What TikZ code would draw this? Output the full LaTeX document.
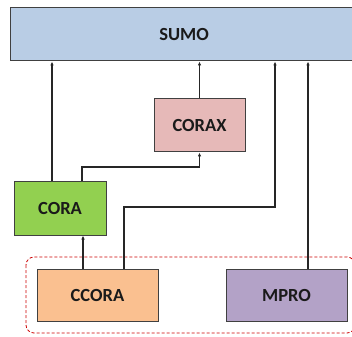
\documentclass[tikz,border=0pt]{standalone}
\usepackage{fontspec}
\setmainfont{Carlito}
\usetikzlibrary{arrows.meta}
\definecolor{sumoc}{HTML}{B9CDE5}
\definecolor{coraxc}{HTML}{E6B9B8}
\definecolor{corac}{HTML}{92D050}
\definecolor{ccorac}{HTML}{FAC090}
\definecolor{mproc}{HTML}{B3A2C7}
\definecolor{edgec}{HTML}{404040}
\definecolor{txtc}{HTML}{1A1A1A}
\begin{document}
\begin{tikzpicture}[x=1pt,y=-1pt,
  blk/.style={draw=edgec,line width=1pt,inner sep=0pt,font=\fontsize{18.5}{21}\selectfont\bfseries,text=txtc},
  conn/.style={draw=black!85,line width=1.4pt,-{Latex[length=4pt,width=3.5pt]}},
  plain/.style={draw=black!85,line width=1.4pt}]
\useasboundingbox (0,0) rectangle (352,336);
\node[blk,fill=sumoc,minimum width=348pt,minimum height=53pt] (sumo) at (184,34.5) {SUMO};
\node[blk,fill=coraxc,minimum width=91pt,minimum height=53pt] (corax) at (199.5,125.5) {CORAX};
\node[blk,fill=corac,minimum width=92pt,minimum height=53pt] (cora) at (60,208.5) {CORA};
\node[blk,fill=ccorac,minimum width=121pt,minimum height=52pt] (ccora) at (97.5,295) {CCORA};
\node[blk,fill=mproc,minimum width=121pt,minimum height=52pt] (mpro) at (286.5,295) {MPRO};
\draw[red!80!black,densely dashed,line width=0.8pt,rounded corners=8pt] (26,257) rectangle (355,333);
\coordinate (a1) at (52,0);
\draw[conn] (cora.north -| a1) -- (sumo.south -| a1);
\draw[conn] (corax.north) -- (sumo.south -| corax.north);
\coordinate (b1) at (82,167);
\draw[conn] (cora.north -| b1) -- (b1) -| (corax.south);
\coordinate (c1) at (83,0);
\draw[conn] (ccora.north -| c1) -- (cora.south -| c1);
\coordinate (d1) at (124,207);
\coordinate (d2) at (275,207);
\draw[conn] (ccora.north -| d1) -- (d1) -- (d2) -- (sumo.south -| d2);
\coordinate (e1) at (308,0);
\draw[conn] (mpro.north -| e1) -- (sumo.south -| e1);
\end{tikzpicture}
\end{document}
